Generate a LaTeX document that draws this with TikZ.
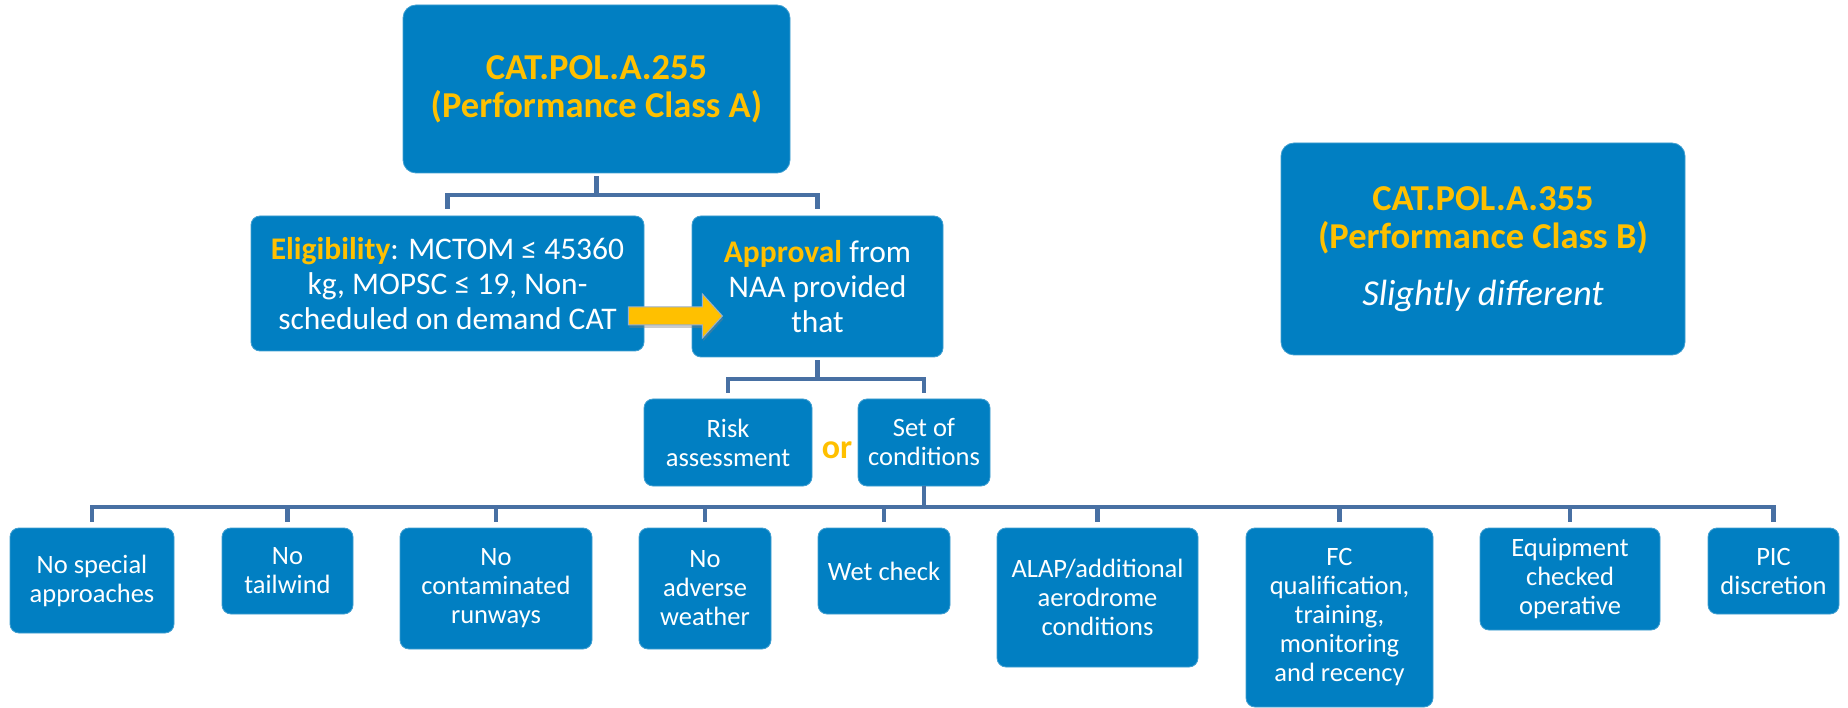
\documentclass[tikz,border=0pt]{standalone}
\usepackage{fontspec}
\setmainfont{Carlito}
\usetikzlibrary{calc,shadows}

\definecolor{boxblue}{RGB}{1,127,194}
\definecolor{gold}{RGB}{255,192,0}
\definecolor{linkblue}{RGB}{72,112,163}

\tikzset{
  box/.style={rectangle, rounded corners=9pt, fill=boxblue, draw=boxblue!75!white,
              line width=0.8pt, text=white, align=center, inner sep=0pt},
  small/.style={font=\fontsize{26.5}{29}\selectfont},
  mid/.style={font=\fontsize{31.5}{35}\selectfont},
  headbox/.style={font=\fontsize{36.5}{38}\selectfont\bfseries, text=gold, rounded corners=13pt},
  conn/.style={draw=linkblue, line width=4.5pt},
  blockarrow/.style={fill=gold, draw=linkblue!55!white, line width=1pt, line join=miter,
                     drop shadow={opacity=0.4, shadow xshift=1pt, shadow yshift=-3pt}},
}

\begin{document}
\begin{tikzpicture}[x=1pt, y=-1pt]
  \fill[white] (0,0) rectangle (1848,708);
  \useasboundingbox (0,0) rectangle (1848,708);

  % upper level
  \node[box, headbox, minimum width=387pt, minimum height=168pt] (top) at (596.5,89)
    {CAT.POL.A.255\\(Performance Class A)};
  \node[box, headbox, minimum width=404pt, minimum height=212pt] (classb) at (1483,249)
    {CAT.POL.A.355\\(Performance Class B)\\[19pt]{\color{white}\mdseries\itshape Slightly different}};

  \node[box, mid, minimum width=393pt, minimum height=135pt] (elig) at (447.5,283.5)
    {{\bfseries\color{gold}Eligibility}: MCTOM ≤ 45360\\kg, MOPSC ≤ 19, Non-\\scheduled on demand CAT};
  \node[box, mid, minimum width=251pt, minimum height=141pt] (appr) at (817.5,286.5)
    {{\bfseries\color{gold}Approval} from\\NAA provided\\that};

  % block arrow from eligibility to approval
  \coordinate (arwtail) at ($(elig.east)+(-16,32.5)$);
  \path[blockarrow] (arwtail) ++(0,-9) -- ++(74,0) -- ++(0,-13) -- ++(20,22)
        -- ++(-20,22) -- ++(0,-13) -- ++(-74,0) -- cycle;

  % alternatives
  \node[box, small, minimum width=168pt, minimum height=87pt] (risk) at (728,442.5)
    {Risk\\assessment};
  \node[box, small, minimum width=132pt, minimum height=87pt] (setc) at (924,442.5)
    {Set of\\conditions};
  \node[font=\fontsize{34}{38}\selectfont\bfseries, text=gold, anchor=base] (or) at (837,458) {or};

  % conditions
  \node[box, small, minimum width=164pt, minimum height=105pt] (b1) at (92,580.5)
    {No special\\approaches};
  \node[box, small, minimum width=131pt, minimum height=86pt] (b2) at (287.5,571)
    {No\\tailwind};
  \node[box, small, minimum width=192pt, minimum height=121pt] (b3) at (496,588.5)
    {No\\contaminated\\runways};
  \node[box, small, minimum width=132pt, minimum height=121pt] (b4) at (705,588.5)
    {No\\adverse\\weather};
  \node[box, small, minimum width=132pt, minimum height=86pt] (b5) at (884,571)
    {Wet check};
  \node[box, small, minimum width=201pt, minimum height=139pt] (b6) at (1097.5,597.5)
    {ALAP/additional\\aerodrome\\conditions};
  \node[box, small, minimum width=187pt, minimum height=179pt] (b7) at (1339.5,617.5)
    {FC\\qualification,\\training,\\monitoring\\and recency};
  \node[box, small, minimum width=180pt, minimum height=102pt] (b8) at (1570,579)
    {Equipment\\checked\\operative};
  \node[box, small, minimum width=131pt, minimum height=86pt] (b9) at (1773.5,571)
    {PIC\\discretion};

  % connectors
  \coordinate (busA) at (596.5,195);
  \coordinate (busB) at (817.5,379);
  \coordinate (busC) at (924,507);

  \draw[conn, shorten <=3pt] (top.south) -- (busA);
  \draw[conn, shorten <=7pt, shorten >=7pt] (elig.north) |- (busA) -| (appr.north);

  \draw[conn, shorten <=3pt] (appr.south) -- (busB);
  \draw[conn, shorten <=6pt, shorten >=6pt] (risk.north) |- (busB) -| (setc.north);

  \draw[conn] (setc.south) -- (busC);
  \draw[conn, shorten <=6pt, shorten >=6pt] (b1.north) |- (busC) -| (b9.north);
  \foreach \n in {b2,b3,b4,b5,b6,b7,b8}
    \draw[conn, shorten <=6pt] (\n.north) -- (\n.north |- busC);
\end{tikzpicture}
\end{document}
